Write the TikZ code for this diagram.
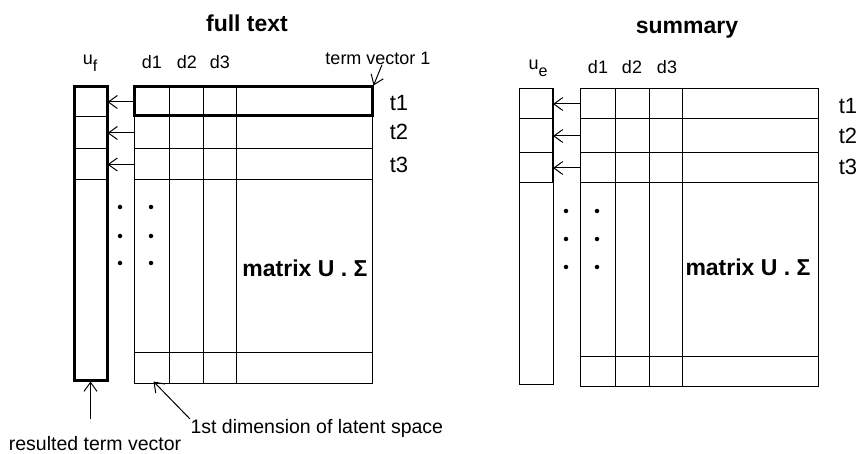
\documentclass[tikz,border=0pt]{standalone}
\usepackage{fontspec}
\setmainfont{Liberation Sans}
\usepackage{tikz}
\usetikzlibrary{arrows.meta}
\usetikzlibrary{positioning}
\tikzstyle{lbl}=[inner sep=0pt, font=\fontsize{18}{18}\selectfont]
\tikzstyle{btmlbl}=[inner sep=0pt, font=\fontsize{19.5}{19.5}\selectfont]
\tikzstyle{rowlbl}=[inner sep=0pt, font=\fontsize{22}{22}\selectfont]
\tikzstyle{ttl}=[inner sep=0pt, font=\fontsize{23}{23}\selectfont\bfseries]
\tikzstyle{mlbl}=[inner sep=0pt, font=\fontsize{23}{23}\selectfont\bfseries]
\tikzstyle{ucell}=[draw, inner sep=0pt, minimum width=33pt]
\tikzstyle{dcell}=[draw, inner sep=0pt, minimum width=35pt]
\tikzstyle{ptr}=[-{Straight Barb[length=9pt,width=13pt]}]
\tikzstyle{dot}=[circle, fill, inner sep=0pt, minimum size=4.5pt]

\begin{document}
\begin{tikzpicture}[x=1pt, y=-1pt, line width=1pt]
\useasboundingbox (0,0) rectangle (857,454);
% full text
\node[ttl] (ttlf) at (247,23) {full text};
\node[lbl] (uflbl) at (90,63) {u\raisebox{-7pt}{\fontsize{16}{16}\selectfont f}};
\node[lbl] (fd1) at (152,62) {d1};
\node[lbl] (fd2) at (187,62) {d2};
\node[lbl] (fd3) at (220,62) {d3};
\node[ucell, minimum height=30pt] (uf1) at (90.5,102) {};
\node[ucell, minimum height=32pt] (uf2) at (90.5,133) {};
\node[ucell, minimum height=31pt] (uf3) at (90.5,164.5) {};
\node[draw, line width=3pt, inner sep=0pt, minimum width=33pt, minimum height=293pt] (uf) at (90.5,233.5) {};
\draw (134,87) rectangle (372,383);
\foreach \x in {169,203,236} \draw (\x,87) -- (\x,383);
\foreach \y in {117,149,180,353} \draw (134,\y) -- (372,\y);
\node[dcell, minimum height=30pt] (mf1) at (151.5,102) {};
\node[dcell, minimum height=32pt] (mf2) at (151.5,133) {};
\node[dcell, minimum height=31pt] (mf3) at (151.5,164.5) {};
\node[draw, line width=3pt, inner sep=0pt, minimum width=238pt, minimum height=29pt] (tv) at (253,101.5) {};
\draw[ptr](mf1.west) -- (uf1.east);
\draw[ptr](mf2.west) -- (uf2.east);
\draw[ptr](mf3.west) -- (uf3.east);
\foreach \y in {207,236,263} {
  \node[dot] at (120,\y) {};
  \node[dot] at (151,\y) {};
}
\node[rowlbl] (ft1) at (399,103) {t1};
\node[rowlbl] (ft2) at (399,132) {t2};
\node[rowlbl] (ft3) at (399,165) {t3};
\node[mlbl] (mflbl) at (305,268) {matrix U . Σ};
\node[lbl] (tvlbl) at (378,58) {term vector 1};
\draw[ptr]([xshift=4pt]tvlbl.south) -- (tv.north east);
\node[btmlbl, anchor=north west] (dimlbl) at (190,419) {1st dimension of latent space};
\draw[ptr](dimlbl.north west) -- ([xshift=20pt]mf1.west |- uf.south);
\node[btmlbl, anchor=base] (reslbl) at (95,450) {resulted term vector};
\draw[ptr]([yshift=16pt]reslbl.north -| uf.south) -- (uf.south);
% summary
\node[ttl] (ttle) at (687,30) {summary};
\node[lbl] (uelbl) at (538,68) {u\raisebox{-7pt}{\fontsize{16}{16}\selectfont e}};
\node[lbl] (ed1) at (598,67) {d1};
\node[lbl] (ed2) at (632,67) {d2};
\node[lbl] (ed3) at (667,67) {d3};
\node[ucell, minimum height=30pt] (ue1) at (536,104) {};
\node[ucell, minimum height=34pt] (ue2) at (536,136) {};
\node[ucell, minimum height=30pt] (ue3) at (536,168) {};
\draw (519,89) rectangle (553,384);
\draw (580,89) rectangle (818,386);
\foreach \x in {615,649,682} \draw (\x,89) -- (\x,386);
\foreach \y in {119,153,183,357} \draw (580,\y) -- (818,\y);
\node[dcell, minimum height=30pt] (me1) at (597.5,104) {};
\node[dcell, minimum height=34pt] (me2) at (597.5,136) {};
\node[dcell, minimum height=30pt] (me3) at (597.5,168) {};
\draw[ptr](me1.west) -- (ue1.east);
\draw[ptr](me2.west) -- (ue2.east);
\draw[ptr](me3.west) -- (ue3.east);
\foreach \y in {211,239,267} {
  \node[dot] at (566,\y) {};
  \node[dot] at (597,\y) {};
}
\node[rowlbl] (et1) at (848,106) {t1};
\node[rowlbl] (et2) at (848,136) {t2};
\node[rowlbl] (et3) at (848,167) {t3};
\node[mlbl] (melbl) at (748,267) {matrix U . Σ};
\end{tikzpicture}
\end{document}
